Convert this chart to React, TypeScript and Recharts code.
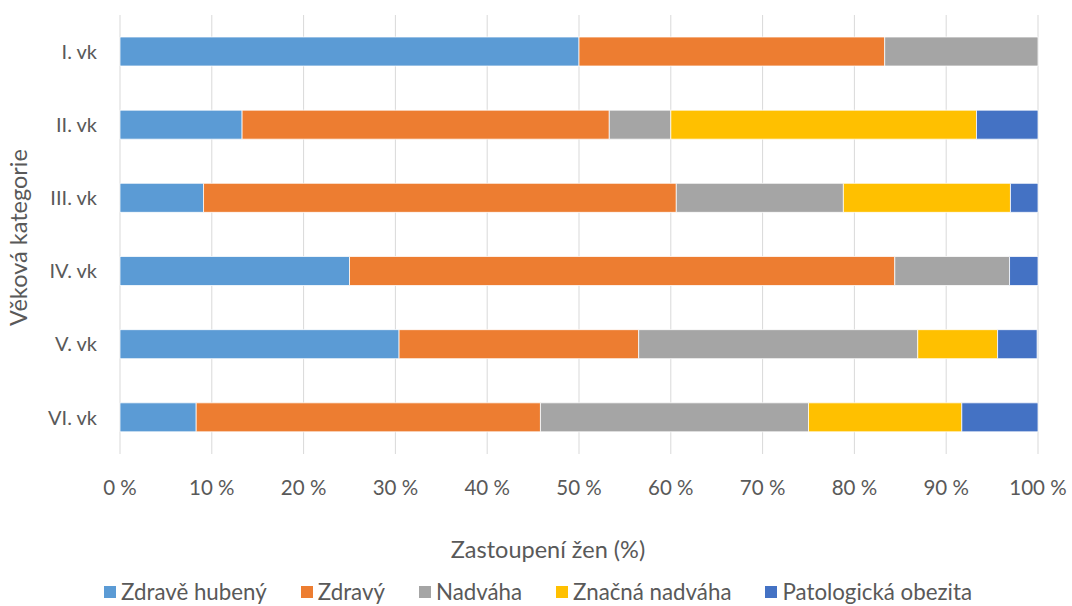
import { BarChart, Bar, XAxis, YAxis, CartesianGrid, Legend } from 'recharts';

const categories = ['I. vk', 'II. vk', 'III. vk', 'IV. vk', 'V. vk', 'VI. vk'];
const zdraveHubeny = [50.0, 13.3, 9.1, 25.0, 30.4, 8.3];
const zdravy = [33.3, 40.0, 51.5, 59.4, 26.1, 37.5];
const nadvaha = [16.7, 6.7, 18.2, 12.5, 30.4, 29.2];
const znacnaNadvaha = [0, 33.3, 18.2, 0, 8.7, 16.7];
const patologickaObezita = [0, 6.7, 3.0, 3.1, 4.3, 8.3];
const xTicks = [0, 10, 20, 30, 40, 50, 60, 70, 80, 90, 100];

const series = [
  { key: 'zdraveHubeny', name: 'Zdravě hubený', color: '#5B9BD5', values: zdraveHubeny },
  { key: 'zdravy', name: 'Zdravý', color: '#ED7D31', values: zdravy },
  { key: 'nadvaha', name: 'Nadváha', color: '#A5A5A5', values: nadvaha },
  { key: 'znacnaNadvaha', name: 'Značná nadváha', color: '#FFC000', values: znacnaNadvaha },
  { key: 'patologickaObezita', name: 'Patologická obezita', color: '#4472C4', values: patologickaObezita },
];

const data = categories.map((cat, i) => {
  const row: any = { cat };
  series.forEach((s) => { row[s.key] = s.values[i]; });
  return row;
});

const FONT = "Lato, 'Open Sans', sans-serif";
const TEXT = '#595959';

// keep the series order (recharts 3 sorts legend items by name otherwise)
const renderLegend = () => (
  <div style={{ display: 'flex', justifyContent: 'center', gap: 34, height: 28, lineHeight: '24px', alignItems: 'center', paddingLeft: 38, fontFamily: FONT, fontSize: 22.3, color: TEXT }}>
    {series.map((s) => (
      <div key={s.key} style={{ display: 'flex', alignItems: 'center' }}>
        <span style={{ display: 'inline-block', width: 12, height: 12, background: s.color, marginRight: 5 }} />
        <span>{s.name}</span>
      </div>
    ))}
  </div>
);

const YTitle = (props: any) => {
  const vb = props.viewBox || {};
  const cx = 18;
  const cy = vb.y + vb.height / 2 + 3;
  return (
    <text x={cx} y={cy} transform={`rotate(-90, ${cx}, ${cy})`} textAnchor="middle" dominantBaseline="central"
      fill={TEXT} fontSize={23.5} fontFamily={FONT}>
      Věková kategorie
    </text>
  );
};

const XTitle = (props: any) => {
  const vb = props.viewBox || {};
  return (
    <text x={548} y={vb.y + 104} textAnchor="middle" fill={TEXT} fontSize={23.5} fontFamily={FONT}>
      Zastoupení žen (%)
    </text>
  );
};

export default function App() {
  return (
    <div style={{ position: 'absolute', left: 0, top: 0, background: '#fff' }}>
      <BarChart width={1072} height={606} data={data} layout="vertical"
        margin={{ top: 15, right: 34, left: 0, bottom: 0 }}>
        <CartesianGrid horizontal={false} stroke="#D9D9D9" strokeWidth={1} />
        <XAxis type="number" domain={[0, 100]} ticks={xTicks} tickFormatter={(v) => `${v} %`}
          axisLine={false} tickLine={false} tickMargin={20} height={124}
          tick={{ fill: TEXT, fontSize: 20.5, fontFamily: FONT }} label={<XTitle />} />
        <YAxis type="category" dataKey="cat" width={120} axisLine={false} tickLine={false} tickMargin={17}
          tick={{ fill: TEXT, fontSize: 20, fontFamily: FONT }} label={<YTitle />} />
        <Legend verticalAlign="bottom" content={renderLegend} />
        {series.map((s) => (
          <Bar key={s.key} dataKey={s.key} name={s.name} stackId="a" fill={s.color} barSize={29}
            stroke="#ffffff" strokeWidth={0.75} isAnimationActive={false} />
        ))}
      </BarChart>
    </div>
  );
}
